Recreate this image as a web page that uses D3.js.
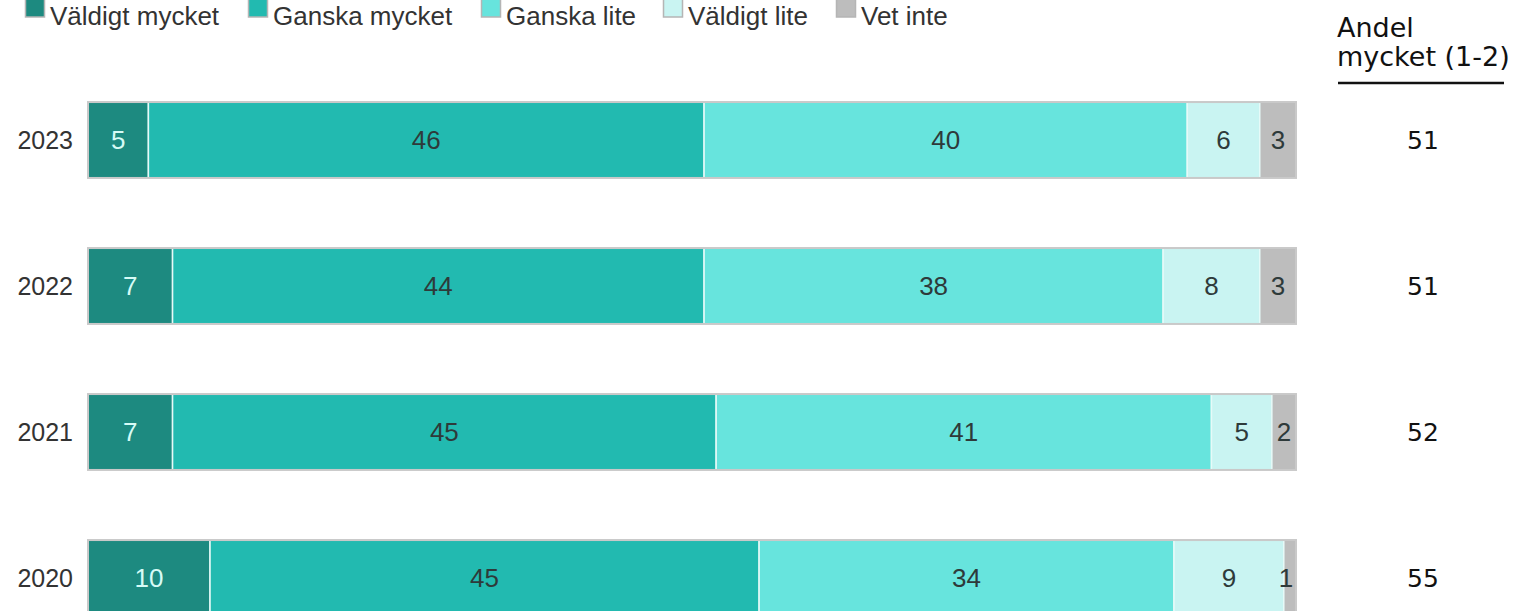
<!DOCTYPE html>
<html>
<head>
<meta charset="utf-8">
<script src="https://cdn.jsdelivr.net/npm/d3@7"></script>
<style>
  body { margin: 0; background: #fff; }
  svg { display: block; }
</style>
</head>
<body>
<div id="chart"></div>
<script>
// data
const years = ["2023", "2022", "2021", "2020"];
const categories = ["Väldigt mycket", "Ganska mycket", "Ganska lite", "Väldigt lite", "Vet inte"];
const valdigtMycket = [5, 7, 7, 10];
const ganskaMycket = [46, 44, 45, 45];
const ganskaLite = [40, 38, 41, 34];
const valdigtLite = [6, 8, 5, 9];
const vetInte = [3, 3, 2, 1];
const andelMycket = [51, 51, 52, 55];

const colors = ["#1d8a80", "#22bab0", "#67e4dd", "#c9f4f2", "#bdbdbd"];

const W = 1517, H = 611;
const svg = d3.select("#chart").append("svg")
  .attr("width", W).attr("height", H);

// build rows for the stack
const series = [valdigtMycket, ganskaMycket, ganskaLite, valdigtLite, vetInte];
const rows = years.map((y, i) => {
  const r = { year: y };
  categories.forEach((c, j) => { r[c] = series[j][i]; });
  return r;
});

const stacked = d3.stack()
  .keys(categories)
  .offset(d3.stackOffsetExpand)(rows);

const x = d3.scaleLinear().domain([0, 1]).range([88, 1296]);
const y = d3.scaleBand().domain(years).range([67, 651])
  .paddingInner(0.48).paddingOuter(0.24);

const color = d3.scaleOrdinal().domain(categories).range(colors);
const arial = "'Liberation Sans', Arial, sans-serif";

// bars
const layer = svg.append("g").selectAll("g")
  .data(stacked)
  .join("g")
  .attr("fill", d => color(d.key));

layer.selectAll("rect")
  .data(d => d.map(p => Object.assign(p, { key: d.key })))
  .join("rect")
  .attr("x", d => x(d[0]))
  .attr("y", d => y(d.data.year))
  .attr("width", d => x(d[1]) - x(d[0]))
  .attr("height", y.bandwidth())
  .attr("stroke", "#e6faf8")
  .attr("stroke-width", 1.5);

// outer outline of each bar
svg.append("g").selectAll("rect")
  .data(years)
  .join("rect")
  .attr("x", x(0))
  .attr("y", d => y(d))
  .attr("width", x(1) - x(0))
  .attr("height", y.bandwidth())
  .attr("fill", "none")
  .attr("stroke", "#c9c9c9")
  .attr("stroke-width", 2);

// segment labels
layer.selectAll("text")
  .data(d => d)
  .join("text")
  .attr("x", d => {
    const mid = (x(d[0]) + x(d[1])) / 2;
    return d.key === "Vet inte" ? Math.min(mid, x(1) - 10) : mid;
  })
  .attr("y", d => y(d.data.year) + y.bandwidth() / 2)
  .attr("dy", "0.36em")
  .attr("text-anchor", "middle")
  .attr("fill", d => d.key === "Väldigt mycket" ? "#d6fbf6" : "#2e3a3a")
  .style("font-family", arial)
  .style("font-size", "26px")
  .text(d => d.data[d.key]);

// year axis
const yAxis = svg.append("g")
  .attr("transform", `translate(${x(0)},0)`)
  .call(d3.axisLeft(y).tickSize(0).tickPadding(15));
yAxis.select(".domain").remove();
yAxis.selectAll("text")
  .attr("fill", "#333")
  .attr("dy", "0.36em")
  .style("font-family", arial)
  .style("font-size", "25px");

// legend
const legendX = [25, 248, 481, 663, 836];
const legend = svg.append("g").selectAll("g")
  .data(categories)
  .join("g")
  .attr("transform", (d, i) => `translate(${legendX[i]},0)`);
legend.append("rect")
  .attr("x", 0.5).attr("y", -2)
  .attr("width", 19).attr("height", 19)
  .attr("fill", d => color(d))
  .attr("stroke", "#b5b5b5")
  .attr("stroke-width", 1.5);
legend.append("text")
  .attr("x", 25).attr("y", 25)
  .attr("fill", "#333")
  .style("font-family", arial)
  .style("font-size", "26px")
  .text(d => d);

// right-hand column
const head = svg.append("g")
  .style("font-family", "'DejaVu Sans', sans-serif")
  .style("font-size", "27px")
  .attr("fill", "#111");
head.append("text").attr("x", 1337).attr("y", 37).text("Andel");
head.append("text").attr("x", 1337).attr("y", 66).text("mycket (1-2)");
head.append("line")
  .attr("x1", 1338).attr("x2", 1504)
  .attr("y1", 83).attr("y2", 83)
  .attr("stroke", "#111").attr("stroke-width", 2.5);

svg.append("g").selectAll("text")
  .data(andelMycket)
  .join("text")
  .attr("x", 1423)
  .attr("y", (d, i) => y(years[i]) + y.bandwidth() / 2)
  .attr("dy", "0.36em")
  .attr("text-anchor", "middle")
  .attr("fill", "#111")
  .style("font-family", "'DejaVu Sans', sans-serif")
  .style("font-size", "25px")
  .text(d => d);
</script>
</body>
</html>
